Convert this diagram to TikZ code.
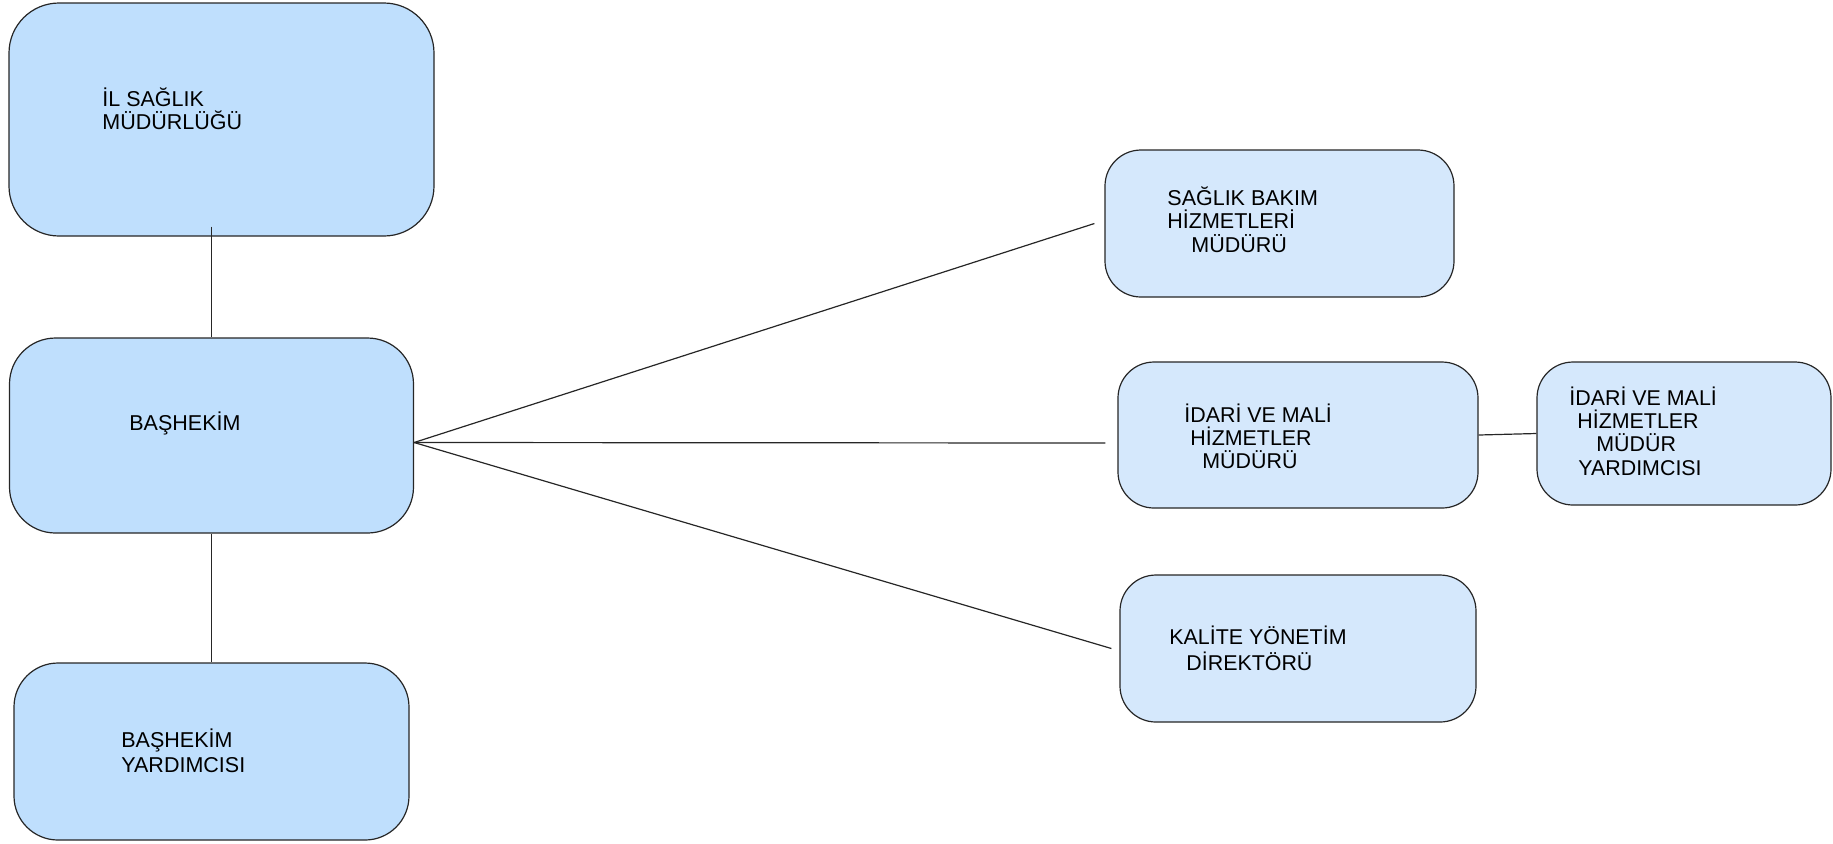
\documentclass[tikz,border=0pt]{standalone}
\usepackage{fontspec}
\setmainfont{Liberation Sans}
\definecolor{leftfill}{RGB}{191,223,253}
\definecolor{rightfill}{RGB}{213,232,252}
\tikzset{
  x=0.5pt, y=-0.5pt,
  box/.style={draw=black!85, line width=0.6pt, inner sep=0pt},
  lbox/.style={box, fill=leftfill},
  rbox/.style={box, fill=rightfill},
  conn/.style={draw=black!85, line width=0.6pt},
  txtl/.style={anchor=base west, inner sep=0pt, font=\fontsize{10.75pt}{12pt}\selectfont},
  txtr/.style={anchor=base west, inner sep=0pt, font=\fontsize{10.7pt}{12pt}\selectfont},
}
\begin{document}
\begin{tikzpicture}
\useasboundingbox (0,0) rectangle (1833,843);
% boxes
\node[lbox, rounded corners=25pt, minimum width=212.5pt, minimum height=116.5pt] (A) at (221.5,119.5) {};
\node[lbox, rounded corners=23pt, minimum width=202pt, minimum height=97.5pt] (B) at (211.5,435.5) {};
\node[lbox, rounded corners=22pt, minimum width=197.5pt, minimum height=88.5pt] (C) at (211.5,751.5) {};
\node[rbox, rounded corners=18pt, minimum width=174.5pt, minimum height=73.5pt] (D) at (1279.5,223.5) {};
\node[rbox, rounded corners=18pt, minimum width=180pt, minimum height=73pt] (E) at (1298,435) {};
\node[rbox, rounded corners=18pt, minimum width=147pt, minimum height=71.5pt] (F) at (1684,433.5) {};
\node[rbox, rounded corners=18pt, minimum width=178pt, minimum height=73.5pt] (G) at (1298,648.5) {};
% connectors
\coordinate (Aend) at ([yshift=5pt]A.south -| B.north);
\coordinate (Bout) at ([yshift=-3.5pt]B.east);
\coordinate (Din) at ([xshift=-5pt]D.west);
\coordinate (Ein) at ([xshift=-6pt,yshift=-4pt]E.west);
\coordinate (Gin) at ([xshift=-4pt]G.west);
\draw[conn] (Aend) -- (B.north);
\draw[conn] (B.south -| C.north) -- (C.north);
\draw[conn] (Bout) -- (Din);
\draw[conn] (Bout) -- (Ein);
\draw[conn] (Bout) -- (Gin);
\draw[conn] (E.east) -- (F.west);
% texts
\node[txtl] (a1) at (102,106) {İL SAĞLIK};
\node[txtl] (a2) at (102,129) {MÜDÜRLÜĞÜ};
\node[txtl] (b1) at (129,430) {BAŞHEKİM};
\node[txtl] (c1) at (121,747) {BAŞHEKİM};
\node[txtl] (c2) at (121,772) {YARDIMCISI};
\node[txtl] (d1) at (1167,205) {SAĞLIK BAKIM};
\node[txtl] (d2) at (1167,228) {HİZMETLERİ};
\node[txtl] (d3) at (1191,252) {MÜDÜRÜ};
\node[txtr] (e1) at (1184,422) {İDARİ VE MALİ};
\node[txtr] (e2) at (1190,445) {HİZMETLER};
\node[txtr] (e3) at (1202,468) {MÜDÜRÜ};
\node[txtr] (f1) at (1569,405) {İDARİ VE MALİ};
\node[txtr] (f2) at (1577,428) {HİZMETLER};
\node[txtr] (f3) at (1596,451) {MÜDÜR};
\node[txtr] (f4) at (1578,475) {YARDIMCISI};
\node[txtr] (g1) at (1169,644) {KALİTE YÖNETİM};
\node[txtr] (g2) at (1186,670) {DİREKTÖRÜ};
\end{tikzpicture}
\end{document}
